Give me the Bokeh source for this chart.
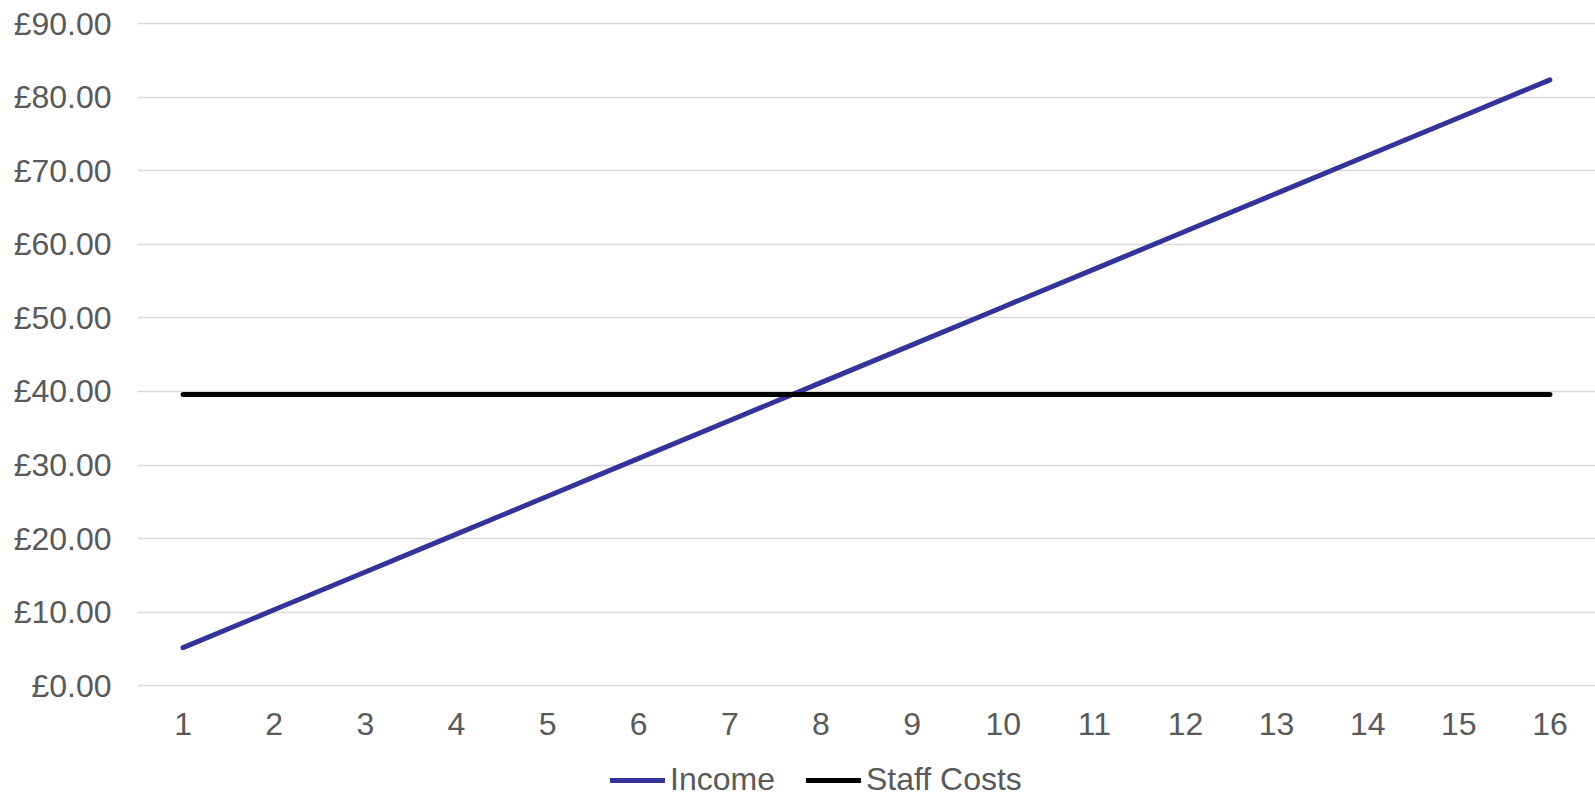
from bokeh.plotting import figure
from bokeh.models import Range1d, FixedTicker, Legend, LegendItem
from bokeh.embed import file_html
from bokeh.resources import INLINE

periods = list(range(1, 17))
income = [5.15, 10.30, 15.45, 20.60, 25.75, 30.90, 36.05, 41.20,
          46.35, 51.50, 56.65, 61.80, 66.95, 72.10, 77.25, 82.40]
staff_costs = [39.60] * 16
y_ticks = [0, 10, 20, 30, 40, 50, 60, 70, 80, 90]
y_tick_labels = ["£0.00", "£10.00", "£20.00", "£30.00", "£40.00",
                 "£50.00", "£60.00", "£70.00", "£80.00", "£90.00"]

FONT = "Liberation Sans"
TXT = "#595959"

# frame spans from top border to the figure bottom; x axis is pinned at y=0
p = figure(width=1595, height=798, output_backend="svg", toolbar_location=None,
           x_range=Range1d(0.5, 16.5), y_range=Range1d(-15.37, 90.2),
           min_border_left=137, min_border_right=0, min_border_top=22,
           min_border_bottom=0)
p.outline_line_color = None
p.background_fill_color = "white"

r1 = p.line(periods, income, line_color="#333399", line_width=5, line_cap="round")
r2 = p.line(periods, staff_costs, line_color="#000000", line_width=5, line_cap="round")

p.xaxis.fixed_location = 0
p.xaxis.ticker = FixedTicker(ticks=periods)
p.yaxis.ticker = FixedTicker(ticks=y_ticks)
p.yaxis.major_label_overrides = {t: l for t, l in zip(y_ticks, y_tick_labels)}
for ax in (p.xaxis, p.yaxis):
    ax.axis_line_color = None
    ax.major_tick_line_color = None
    ax.minor_tick_line_color = None
    ax.major_label_text_font = FONT
    ax.major_label_text_font_size = "32px"
    ax.major_label_text_color = TXT
p.xaxis.major_label_standoff = 21
p.yaxis.major_label_standoff = 20

p.xgrid.grid_line_color = None
p.ygrid.ticker = FixedTicker(ticks=y_ticks)
p.ygrid.grid_line_color = "#d9d9d9"
p.ygrid.grid_line_width = 1.5

legend = Legend(items=[LegendItem(label="Income", renderers=[r1]),
                       LegendItem(label="Staff Costs", renderers=[r2])],
                orientation="horizontal", location=(473, 0),
                border_line_color=None, background_fill_alpha=0,
                label_text_font=FONT, label_text_font_size="32px",
                label_text_color=TXT, glyph_width=55, glyph_height=20,
                label_standoff=5, spacing=31, padding=0, margin=0)
p.add_layout(legend, "center")

open("out.html", "w").write(file_html(p, INLINE))
